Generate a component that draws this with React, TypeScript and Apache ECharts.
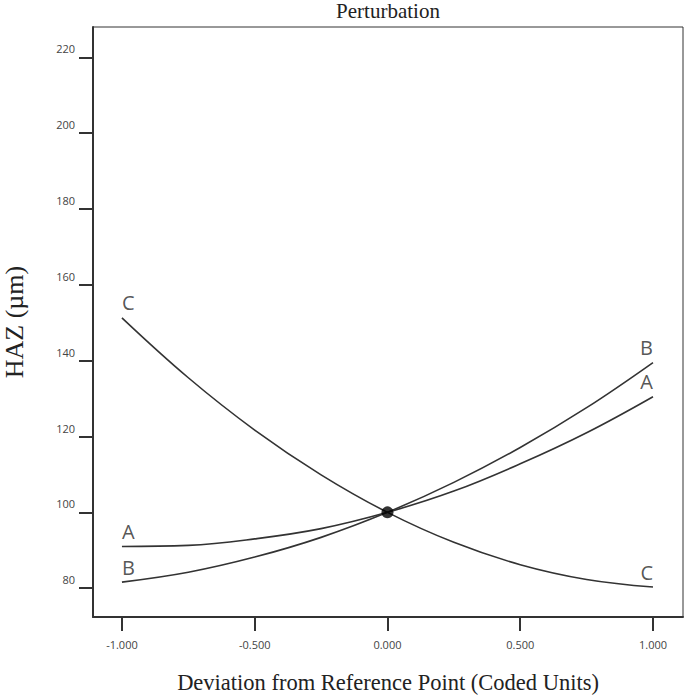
import React, { useEffect, useRef } from "react";
import * as echarts from "echarts";

const xValues = [-1, -0.75, -0.5, -0.25, 0, 0.25, 0.5, 0.75, 1];
const seriesA = [91.0, 91.3, 93.0, 95.7, 100, 105.6, 112.8, 121.0, 130.5];
const seriesB = [81.6, 84.2, 88.2, 93.4, 100, 107.9, 117.1, 127.6, 139.5];
const seriesC = [151.3, 135.5, 121.7, 109.9, 100, 92.1, 86.2, 82.3, 80.3];
const curveNames = ["A", "B", "C"];
const xTicks = [-1, -0.5, 0, 0.5, 1];
const yTicks = [80, 100, 120, 140, 160, 180, 200, 220];
const refPoint = [0, 100];

export default function App() {
  const ref = useRef<HTMLDivElement>(null);
  useEffect(() => {
    if (!ref.current) return;
    const chart = echarts.init(ref.current, undefined, { renderer: "svg" });
    const curves = [seriesA, seriesB, seriesC];
    const lineColor = "#333";
    const labelFont = { fontFamily: "Open Sans", fontSize: 20, color: "#2a2a2a" };
    const labelData: any[] = [];
    curves.forEach((c, i) => {
      labelData.push({
        value: [xValues[0], c[0]],
        name: curveNames[i],
        label: { align: "left", verticalAlign: "bottom", offset: [0, -5] },
      });
      labelData.push({
        value: [xValues[xValues.length - 1], c[c.length - 1]],
        name: curveNames[i],
        label: { align: "right", verticalAlign: "bottom", offset: [0, -5] },
      });
    });
    chart.setOption({
      animation: false,
      backgroundColor: "#fff",
      title: {
        text: "Perturbation",
        left: 388,
        top: 0,
        padding: 0,
        textAlign: "center",
        textStyle: { fontFamily: "Liberation Serif", fontSize: 21, fontWeight: "normal", color: "#222" },
      },
      grid: {
        left: 93,
        right: 2,
        top: 27,
        bottom: 80,
        containLabel: false,
        outerBoundsMode: "none",
        show: true,
        borderColor: "#333",
        borderWidth: 1,
        backgroundColor: "transparent",
      },
      xAxis: {
        type: "value",
        min: -1.109,
        max: 1.113,
        name: "Deviation from Reference Point (Coded Units)",
        nameLocation: "middle",
        nameGap: 54,
        nameTextStyle: { fontFamily: "Liberation Serif", fontSize: 22.5, color: "#222" },
        axisLine: { show: true, onZero: false, lineStyle: { color: "#333", width: 2 } },
        axisTick: { show: true, inside: false, length: 14, customValues: xTicks, lineStyle: { color: "#333", width: 2 } },
        axisLabel: {
          customValues: xTicks,
          margin: 22,
          fontFamily: "Open Sans",
          fontSize: 11,
          color: "#444",
          formatter: (v: number) => v.toFixed(3),
        },
        splitLine: { show: false },
      },
      yAxis: {
        type: "value",
        min: 72.4,
        max: 228,
        name: "HAZ (µm)",
        nameLocation: "middle",
        nameGap: 66,
        nameTextStyle: { fontFamily: "Liberation Serif", fontSize: 26, color: "#222" },
        axisLine: { show: true, onZero: false, lineStyle: { color: "#333", width: 2 } },
        axisTick: { show: true, inside: false, length: 14, customValues: yTicks, lineStyle: { color: "#333", width: 2 } },
        axisLabel: {
          customValues: yTicks,
          margin: 18,
          fontFamily: "Open Sans",
          fontSize: 11,
          color: "#444",
          verticalAlign: "bottom",
          padding: [0, 0, 3, 0],
        },
        splitLine: { show: false },
      },
      series: [
        ...curves.map((c, i) => ({
          type: "line",
          name: curveNames[i],
          data: xValues.map((x, j) => [x, c[j]]),
          smooth: 0.4,
          showSymbol: false,
          symbol: "none",
          lineStyle: { color: lineColor, width: 1.6 },
          z: 3,
        })),
        {
          type: "scatter",
          data: labelData,
          symbol: "circle",
          symbolSize: 1,
          itemStyle: { color: "rgba(0,0,0,0)" },
          label: { show: true, position: "inside", formatter: (p: any) => p.name, ...labelFont },
          z: 4,
        },
        {
          type: "scatter",
          data: [refPoint],
          symbol: "circle",
          symbolSize: 12,
          itemStyle: { color: "#000" },
          z: 5,
        },
      ],
    });
    return () => chart.dispose();
  }, []);
  return (
    <div
      ref={ref}
      style={{ position: "fixed", left: 0, top: 0, width: 685, height: 697 }}
    />
  );
}
